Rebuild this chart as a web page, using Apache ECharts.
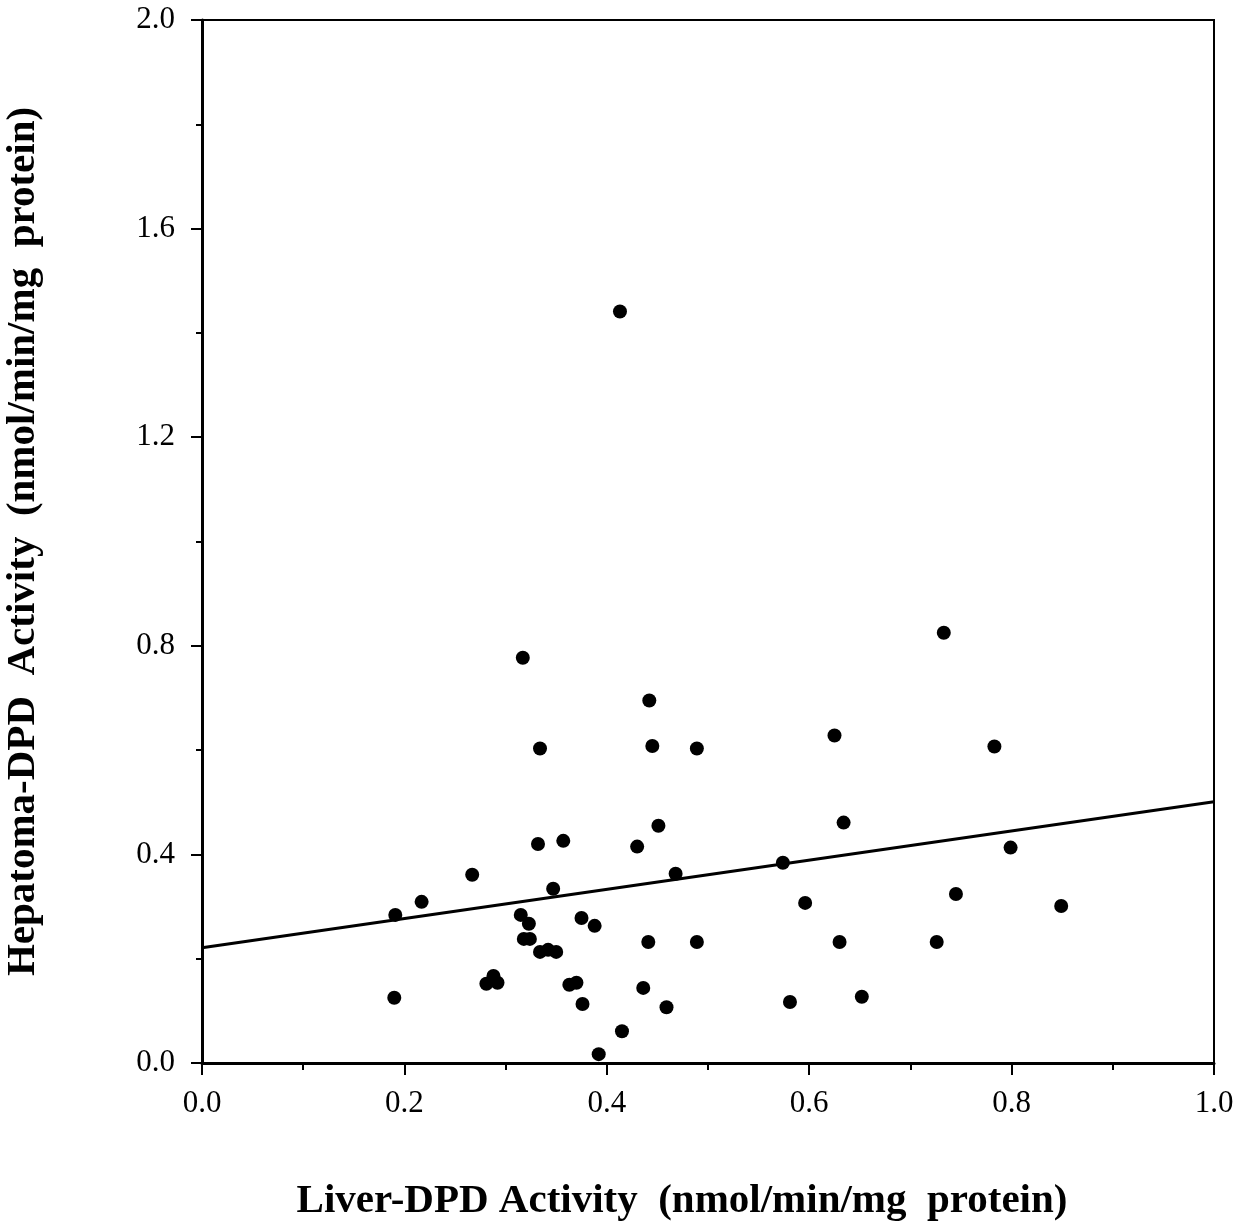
<!DOCTYPE html>
<html>
<head>
<meta charset="utf-8">
<script src="https://cdn.jsdelivr.net/npm/echarts@6/dist/echarts.min.js"></script>
<style>
html, body { margin: 0; padding: 0; background: #fff; }
#chart { width: 1240px; height: 1226px; }
</style>
</head>
<body>
<div id="chart"></div>
<script>
// liver DPD activity (x) vs hepatoma DPD activity (y)
const liverDpd = [
  0.413, 0.733, 0.317, 0.442, 0.334, 0.445, 0.489, 0.625, 0.783, 0.634,
  0.451, 0.332, 0.357, 0.430, 0.799, 0.267, 0.468, 0.574, 0.347, 0.745,
  0.849, 0.596, 0.217, 0.191, 0.315, 0.323, 0.375, 0.388, 0.318, 0.324,
  0.441, 0.489, 0.630, 0.726, 0.334, 0.342, 0.350, 0.288, 0.281, 0.292,
  0.190, 0.363, 0.370, 0.376, 0.436, 0.459, 0.415, 0.392, 0.581, 0.652
];
const hepatomaDpd = [
  1.441, 0.825, 0.777, 0.695, 0.603, 0.608, 0.603, 0.628, 0.607, 0.461,
  0.455, 0.420, 0.426, 0.415, 0.413, 0.361, 0.363, 0.384, 0.334, 0.324,
  0.301, 0.307, 0.309, 0.284, 0.284, 0.267, 0.278, 0.263, 0.238, 0.238,
  0.232, 0.232, 0.232, 0.232, 0.213, 0.217, 0.213, 0.167, 0.152, 0.154,
  0.125, 0.150, 0.154, 0.113, 0.144, 0.107, 0.061, 0.017, 0.117, 0.127
];
// regression line end points
const fitX = [0.0, 1.0];
const fitY = [0.221, 0.501];

const xTicks = ['0.0', '0.2', '0.4', '0.6', '0.8', '1.0'];
const yTicks = ['0.0', '0.4', '0.8', '1.2', '1.6', '2.0'];

const points = liverDpd.map((x, i) => [x, hepatomaDpd[i]]);
const fitLine = fitX.map((x, i) => [x, fitY[i]]);

const chart = echarts.init(document.getElementById('chart'));
chart.setOption({
  animation: false,
  backgroundColor: '#fff',
  textStyle: { fontFamily: 'Liberation Serif', color: '#000' },
  grid: {
    left: 202,
    right: 26,
    top: 20,
    bottom: 163,
    outerBoundsMode: 'none',
    containLabel: false,
    show: true,
    borderColor: '#000',
    borderWidth: 2,
    backgroundColor: 'transparent'
  },
  xAxis: {
    type: 'value',
    min: 0,
    max: 1,
    interval: 0.2,
    name: 'Liver-DPD Activity  (nmol/min/mg  protein)',
    nameLocation: 'middle',
    nameGap: 118,
    nameTextStyle: {
      fontFamily: 'Liberation Serif',
      fontWeight: 'bold',
      fontSize: 41,
      color: '#000',
      padding: [0, 52, 0, 0]
    },
    axisLine: { show: true, onZero: false, lineStyle: { color: '#000', width: 3 } },
    axisTick: { show: true, length: 12, lineStyle: { color: '#000', width: 2 } },
    minorTick: { show: true, splitNumber: 2, length: 7, lineStyle: { color: '#000', width: 2 } },
    axisLabel: {
      margin: 25,
      fontSize: 31,
      color: '#000',
      fontFamily: 'Liberation Serif',
      formatter: v => xTicks[Math.round(v / 0.2)]
    },
    splitLine: { show: false }
  },
  yAxis: {
    type: 'value',
    min: 0,
    max: 2,
    interval: 0.4,
    name: 'Hepatoma-DPD  Activity  (nmol/min/mg  protein)',
    nameLocation: 'middle',
    nameGap: 158,
    nameTextStyle: {
      fontFamily: 'Liberation Serif',
      fontWeight: 'bold',
      fontSize: 41,
      color: '#000'
    },
    axisLine: { show: true, onZero: false, lineStyle: { color: '#000', width: 3 } },
    axisTick: { show: true, length: 11, lineStyle: { color: '#000', width: 2 } },
    minorTick: { show: true, splitNumber: 2, length: 6, lineStyle: { color: '#000', width: 2 } },
    axisLabel: {
      margin: 27,
      fontSize: 31,
      color: '#000',
      fontFamily: 'Liberation Serif',
      formatter: v => yTicks[Math.round(v / 0.4)]
    },
    splitLine: { show: false }
  },
  series: [
    {
      type: 'line',
      data: fitLine,
      showSymbol: false,
      symbol: 'none',
      lineStyle: { color: '#000', width: 3 },
      z: 2
    },
    {
      type: 'scatter',
      data: points,
      symbol: 'circle',
      symbolSize: 14,
      itemStyle: { color: '#000', opacity: 1 },
      z: 3
    }
  ]
});
</script>
</body>
</html>
